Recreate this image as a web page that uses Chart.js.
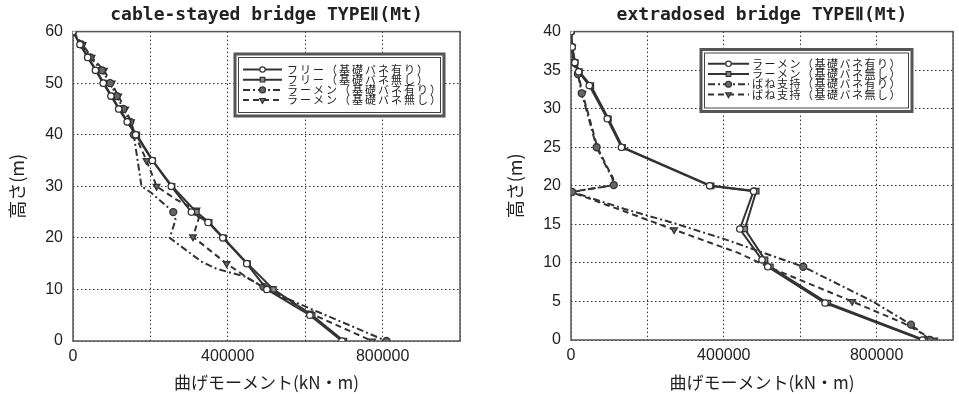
<!DOCTYPE html>
<html><head><meta charset="utf-8">
<script src="https://cdn.jsdelivr.net/npm/chart.js@4.4.0/dist/chart.umd.min.js"></script>
<style>
html,body{margin:0;padding:0;background:#fff;}
#wrap{position:relative;width:959px;height:394px;overflow:hidden;background:#fff;}
.box{position:absolute;top:0;height:394px;}
#b1{left:0;width:480px;} #b2{left:480px;width:479px;}
canvas{display:block;}
</style></head><body>
<div id="wrap">
<div class="box" id="b1"><canvas id="c1" width="480" height="394"></canvas></div>
<div class="box" id="b2"><canvas id="c2" width="479" height="394"></canvas></div>
</div>
<script>
// ---------- texts ----------
const leftTitle = 'cable-stayed bridge TYPEⅡ(Mt)';
const rightTitle = 'extradosed bridge TYPEⅡ(Mt)';
const xAxisTitle = '曲げモーメント(kN・m)';
const yAxisTitle = '高さ(m)';
const leftSeriesNames = ['フリー（基礎バネ有り）','フリー（基礎バネ無し）','ラーメン（基礎バネ有り）','ラーメン（基礎バネ無し）'];
const rightSeriesNames = ['ラーメン（基礎バネ有り）','ラーメン（基礎バネ無し）','ばね支持（基礎バネ有り）','ばね支持（基礎バネ無し）'];
const xTickLabels = [0, 400000, 800000];

// ---------- left chart data (height m, moment kN・m) ----------
const leftFreeH = [60,57.5,55,52.5,50,47.5,45,42.5,40,35,30,25,23,20,15,10,5,0];
const leftFreeSpringM = [0,18000,38000,58000,78000,98000,118000,140000,162000,205000,254000,306000,349000,387000,449000,501000,612000,695000];
const leftFreeNoSpringM = [0,19000,39000,60000,80000,100000,120000,142000,165000,206000,256000,319000,352000,389000,451000,518000,618000,700000];
const leftRahmenSpringH = [60,57.5,55,52.5,50,47.5,45,42.5,40,30,28.7,25,23.5,20,17.3,15.4,14,12.5,10.5,9,6.7,0];
const leftRahmenSpringM = [0,22000,45000,75000,96000,113000,130000,148000,157000,177000,203000,259000,265000,250000,298000,332000,371000,444000,492000,530000,600000,810000];
const leftRahmenNoSpringH = [60,57.5,55,52.5,50,47.5,45,42.5,40,35,30,27.5,25.4,23.8,20.2,15,12.6,10.2,8,5.4,0];
const leftRahmenNoSpringM = [0,25000,48000,80000,100000,117000,135000,150000,160000,190000,216000,265000,319000,325000,310000,397000,444000,496000,555000,612000,773000];

// ---------- right chart data ----------
const rightRahmenH = [40,38,36,34.8,33,28.7,25,20,19.3,14.4,10.4,9.5,4.8,0];
const rightRahmenSpringM = [0,3000,10000,20000,48000,95000,132000,363000,478000,442000,500000,515000,665000,920000];
const rightRahmenNoSpringM = [0,3000,11000,22000,52000,98000,135000,367000,485000,455000,508000,522000,672000,925000];
const rightSpringSpringH = [40,38,36,34.5,32,29,25,22.5,21,20.1,19.2,17,15.2,13.2,9.5,5,2,0];
const rightSpringSpringM = [0,2000,6000,18000,28000,45000,67000,92000,108000,112000,3000,140000,266000,395000,608000,790000,890000,940000];
const rightSpringNoSpringH = [40,38,36,34.5,32,29,25,22.5,21,20.1,19.2,16.5,14.3,11.3,9.5,5,2.2,0];
const rightSpringNoSpringM = [0,3000,7000,19000,30000,47000,69000,94000,110000,114000,0,150000,270000,438000,516000,736000,870000,951000];

// ---------- styles ----------
const INK = '#333';
const styles = [
  {borderDash: [], pointStyle: 'circle', size: 3.2, fill: '#fff', rotation: 0},
  {borderDash: [], pointStyle: 'rect', size: 3.8, fill: '#888', rotation: 0},
  {borderDash: [7,3,2,3], pointStyle: 'circle', size: 3.5, fill: '#666', rotation: 0},
  {borderDash: [6,4], pointStyle: 'triangle', size: 3.8, fill: '#666', rotation: 180}
];
// vertices of a polyline that carry no marker (style only)
const leftUnmarked = [[], [], [9,10,12,13,14,15,16,17,19,20], [11,13,16,18]];
const rightUnmarked = [[], [], [5,7,8,11,12,13,15], [5,6,7,8,9,11,13,14,16]];

function pts(ms, hs){ return hs.map((h,i)=>({x: ms[i], y: h})); }
function makeDataset(label, data, idx, unmarked){
  const s = styles[idx];
  return {
    label, data, showLine: true, tension: 0,
    borderColor: INK, borderWidth: 2, borderDash: s.borderDash,
    pointStyle: s.pointStyle, pointRotation: s.rotation,
    pointRadius: c => unmarked.includes(c.dataIndex) ? 0 : s.size,
    pointBackgroundColor: s.fill, pointBorderColor: INK, pointBorderWidth: 1.3,
    markerSize: s.size
  };
}

const framePlugin = {
  id: 'frame',
  beforeDatasetsDraw(chart){
    const {ctx, chartArea: a} = chart;
    ctx.save();
    ctx.strokeStyle = '#555';
    ctx.lineWidth = 1.5;
    ctx.strokeRect(a.left, a.top, a.right - a.left, a.bottom - a.top);
    ctx.restore();
  }
};

const boxLegendPlugin = {
  id: 'boxLegend',
  afterDatasetsDraw(chart, args, o){
    const ctx = chart.ctx;
    ctx.save();
    ctx.setLineDash([]);
    ctx.fillStyle = '#fff';
    ctx.fillRect(o.x, o.y, o.w, o.h);
    ctx.strokeStyle = '#555';
    ctx.lineWidth = 3;
    ctx.strokeRect(o.x, o.y, o.w, o.h);
    ctx.lineWidth = 1;
    ctx.strokeStyle = '#444';
    ctx.strokeRect(o.x + 3.5, o.y + 3.5, o.w - 7, o.h - 7);
    chart.data.datasets.forEach((ds, i) => {
      const yy = o.rowY0 + i * o.rowGap;
      ctx.strokeStyle = INK;
      ctx.lineWidth = 2;
      ctx.setLineDash(ds.borderDash || []);
      ctx.beginPath();
      ctx.moveTo(o.lineX0, yy);
      ctx.lineTo(o.lineX1, yy);
      ctx.stroke();
      ctx.setLineDash([]);
      ctx.fillStyle = ds.pointBackgroundColor;
      ctx.strokeStyle = INK;
      ctx.lineWidth = 1.2;
      Chart.helpers.drawPoint(ctx, {pointStyle: ds.pointStyle, radius: ds.markerSize * 0.85, rotation: ds.pointRotation, borderWidth: 1.2}, (o.lineX0 + o.lineX1) / 2, yy);
      ctx.fillStyle = '#222';
      ctx.font = '11px "Noto Sans CJK JP"';
      ctx.textBaseline = 'middle';
      ctx.textAlign = 'left';
      try { ctx.letterSpacing = o.spacing; } catch(e) {}
      ctx.fillText(ds.label, o.textX, yy);
      try { ctx.letterSpacing = '0px'; } catch(e) {}
    });
    ctx.restore();
  }
};

function makeChart(canvasId, cfg){
  const tickFont = {family: '"Liberation Sans", Arial, sans-serif', size: 16};
  return new Chart(document.getElementById(canvasId), {
    type: 'scatter',
    data: {datasets: cfg.datasets},
    options: {
      responsive: false, animation: false, devicePixelRatio: 1,
      layout: {padding: cfg.pad},
      plugins: {
        legend: {display: false},
        tooltip: {enabled: false},
        title: {
          display: true, text: cfg.title, fullSize: false, color: '#222',
          font: {family: '"DejaVu Sans Mono", monospace', size: 18, weight: 'bold'},
          padding: {top: 5, bottom: 5}
        },
        boxLegend: cfg.legend
      },
      scales: {
        x: {
          type: 'linear', min: 0, max: 1000000,
          afterFit: s => { s.height = cfg.xAxisH; },
          ticks: {
            stepSize: 200000, color: '#222', font: tickFont, padding: 6, maxRotation: 0, autoSkip: false,
            callback: v => xTickLabels.includes(v) ? String(v) : ''
          },
          grid: {color: '#333', lineWidth: 1, drawTicks: false},
          border: {display: false, dash: [1.5, 2.5]},
          title: {display: true, text: xAxisTitle, color: '#222',
            font: {family: '"Noto Sans CJK JP", sans-serif', size: 17}, padding: {top: 0, bottom: 1}}
        },
        y: {
          type: 'linear', min: 0, max: cfg.yMax,
          afterFit: s => { s.width = cfg.yAxisW; },
          ticks: {stepSize: cfg.yStep, color: '#222', font: tickFont, padding: 10},
          grid: {color: '#333', lineWidth: 1, drawTicks: false},
          border: {display: false, dash: [1.5, 2.5]},
          title: {display: true, text: yAxisTitle, color: '#222',
            font: {family: '"Noto Sans CJK JP", sans-serif', size: 18}, padding: {top: cfg.yTitlePad, bottom: 0}}
        }
      }
    },
    plugins: [framePlugin, boxLegendPlugin]
  });
}

makeChart('c1', {
  title: leftTitle, yMax: 60, yStep: 10, yAxisW: 73, xAxisH: 53, yTitlePad: 6,
  pad: {left: 0, right: 20, top: 0, bottom: 0},
  datasets: [
    makeDataset(leftSeriesNames[0], pts(leftFreeSpringM, leftFreeH), 0, leftUnmarked[0]),
    makeDataset(leftSeriesNames[1], pts(leftFreeNoSpringM, leftFreeH), 1, leftUnmarked[1]),
    makeDataset(leftSeriesNames[2], pts(leftRahmenSpringM, leftRahmenSpringH), 2, leftUnmarked[2]),
    makeDataset(leftSeriesNames[3], pts(leftRahmenNoSpringM, leftRahmenNoSpringH), 3, leftUnmarked[3])
  ],
  legend: {x: 235, y: 54, w: 209, h: 62, rowY0: 69.5, rowGap: 10.2, lineX0: 243, lineX1: 282, textX: 287, spacing: '2px'}
});

makeChart('c2', {
  title: rightTitle, yMax: 40, yStep: 5, yAxisW: 91, xAxisH: 54, yTitlePad: 24,
  pad: {left: 0, right: 2, top: 0, bottom: 0},
  datasets: [
    makeDataset(rightSeriesNames[0], pts(rightRahmenSpringM, rightRahmenH), 0, rightUnmarked[0]),
    makeDataset(rightSeriesNames[1], pts(rightRahmenNoSpringM, rightRahmenH), 1, rightUnmarked[1]),
    makeDataset(rightSeriesNames[2], pts(rightSpringSpringM, rightSpringSpringH), 2, rightUnmarked[2]),
    makeDataset(rightSeriesNames[3], pts(rightSpringNoSpringM, rightSpringNoSpringH), 3, rightUnmarked[3])
  ],
  legend: {x: 221, y: 49.5, w: 211, h: 62, rowY0: 63.8, rowGap: 10.2, lineX0: 228, lineX1: 269, textX: 272, spacing: '1.5px'}
});
</script>
</body></html>
